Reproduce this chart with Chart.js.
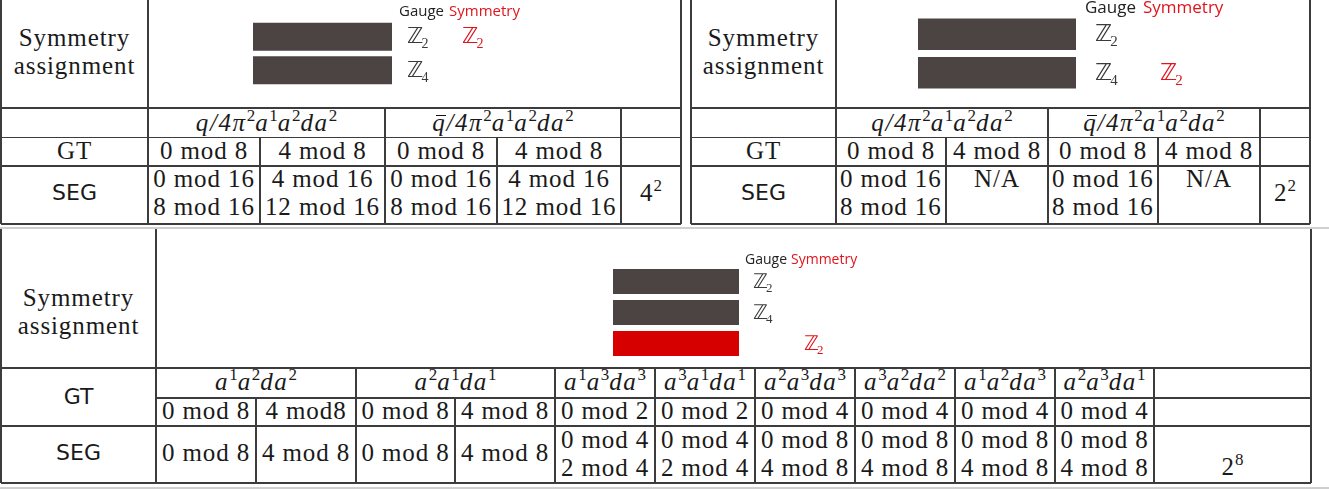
<!DOCTYPE html>
<html>
<head>
<meta charset="utf-8">
<script src="https://cdn.jsdelivr.net/npm/chart.js@4.4.1/dist/chart.umd.min.js"></script>
<style>
  html, body { margin: 0; padding: 0; background: #fff; }
  #page { position: relative; width: 1329px; height: 490px; overflow: hidden; background: #fff; }
  .ln { position: absolute; background: #3c3c3c; }
  .lt { position: absolute; background: #cfcfcf; }
  .t { position: absolute; text-align: center; white-space: nowrap; color: #1a1a1a; }
  .rm { font: 25px "Liberation Serif", serif; letter-spacing: .9px; }
  .mi { font: italic 25px "Liberation Serif", serif; letter-spacing: 1.6px; }
  .sf { font: 22px "DejaVu Sans", sans-serif; }
  .t sup { font: 17px "Liberation Serif", serif; position: relative; top: -10px; vertical-align: baseline; line-height: 0; letter-spacing: 0; }
  .qb { position: relative; }
  .qb::before { content: ''; position: absolute; left: 4px; right: 0; top: 6px; border-top: 1.4px solid #111; }
  canvas { position: absolute; }
</style>
</head>
<body>
<div id="page"></div>
<script>
// ---- data ----
// bars: one per gauge group, the red one carries only the symmetry
const tlGauge = ['2', '4'];
const tlSym   = ['2', ''];
const tlBars  = [1, 1];

const trGauge = ['2', '4'];
const trSym   = ['', '2'];
const trBars  = [1, 1];

const bGauge = ['2', '4', ''];
const bSym   = ['', '', '2'];
const bBars  = [1, 1, 1];

// tables
const topCharges = ['q', 'qbar'];
const tlGT  = ['0 mod 8', '4 mod 8', '0 mod 8', '4 mod 8'];
const tlSEG = [['0 mod 16', '8 mod 16'], ['4 mod 16', '12 mod 16'], ['0 mod 16', '8 mod 16'], ['4 mod 16', '12 mod 16']];
const tlCount = ['4', '2'];

const trGT  = ['0 mod 8', '4 mod 8', '0 mod 8', '4 mod 8'];
const trSEG = [['0 mod 16', '8 mod 16'], ['N/A'], ['0 mod 16', '8 mod 16'], ['N/A']];
const trCount = ['2', '2'];

const bTerms = [['1', '2', '2'], ['2', '1', '1'], ['1', '3', '3'], ['3', '1', '1'],
                ['2', '3', '3'], ['3', '2', '2'], ['1', '2', '3'], ['2', '3', '1']];
const bGT  = ['0 mod 8', '4 mod8', '0 mod 8', '4 mod 8', '0 mod 2', '0 mod 2', '0 mod 4', '0 mod 4', '0 mod 4', '0 mod 4'];
const bSEG = [['0 mod 8'], ['4 mod 8'], ['0 mod 8'], ['4 mod 8'], ['0 mod 4', '2 mod 4'], ['0 mod 4', '2 mod 4'],
              ['0 mod 8', '4 mod 8'], ['0 mod 8', '4 mod 8'], ['0 mod 8', '4 mod 8'], ['0 mod 8', '4 mod 8']];
const bCount = ['2', '8'];

const DARK = '#4b4442';
const RED  = '#d60000';

// ---- helpers ----
const page = document.getElementById('page');

function hline(x1, x2, y, w = 1.3) {
  const d = document.createElement('div');
  d.className = 'ln';
  Object.assign(d.style, { left: x1 + 'px', top: (y - w / 2) + 'px', width: (x2 - x1) + 'px', height: w + 'px' });
  page.appendChild(d);
}
function vline(x, y1, y2, w = 1.3) {
  const d = document.createElement('div');
  d.className = 'ln';
  Object.assign(d.style, { left: (x - w / 2) + 'px', top: y1 + 'px', width: w + 'px', height: (y2 - y1) + 'px' });
  page.appendChild(d);
}
function light(y) {
  const d = document.createElement('div');
  d.className = 'lt';
  Object.assign(d.style, { left: '0px', top: y + 'px', width: '1329px', height: '2px' });
  page.appendChild(d);
}
// cy = centre of the first line; extra lines go in the same element, gap px apart
function put(x1, x2, cy, lines, cls = 'rm', align, gap = 28) {
  const arr = Array.isArray(lines) ? lines : [lines];
  const d = document.createElement('div');
  d.className = 't ' + cls;
  d.style.left = x1 + 'px';
  d.style.width = (x2 - x1) + 'px';
  d.style.top = (cy - gap / 2) + 'px';
  d.style.lineHeight = gap + 'px';
  if (align) { d.style.textAlign = align; d.style.paddingLeft = '4px'; }
  d.innerHTML = arr.join('<br>');
  page.appendChild(d);
}
function box(x1, x2, y1, y2) {
  hline(x1, x2, y1, 1.8); hline(x1, x2, y2, 1.8);
  vline(x1, y1, y2, 1.8); vline(x2, y1, y2, 1.8);
}
const chargeHtml = c => (c === 'qbar' ? '<span class="qb">q</span>' : 'q') +
  '/4π<sup>2</sup>a<sup>1</sup>a<sup>2</sup>da<sup>2</sup>';
const termHtml = t => `a<sup>${t[0]}</sup>a<sup>${t[1]}</sup>da<sup>${t[2]}</sup>`;
const powHtml = p => `${p[0]}<sup>${p[1]}</sup>`;

// ---- Chart.js bars with gauge / symmetry labels ----
const symLabels = {
  id: 'symLabels',
  afterDatasetsDraw(chart, args, o) {
    const { ctx, chartArea } = chart;
    const ys = chart.scales.y;
    const r = chartArea.right;
    ctx.save();
    ctx.textBaseline = 'middle';
    ctx.textAlign = 'left';
    ctx.font = o.headFont;
    ctx.fillStyle = '#222';
    ctx.fillText('Gauge', r + o.headGauge, o.headY);
    ctx.fillStyle = '#e0141b';
    ctx.fillText('Symmetry', r + o.headSym, o.headY);
    const drawZ = (x, y, sub, color) => {
      ctx.fillStyle = color;
      ctx.font = o.zFont;
      ctx.fillText('ℤ', x, y + 1);
      const w = ctx.measureText('ℤ').width;
      ctx.font = o.subFont;
      ctx.fillText(sub, x + w - 2, y + o.subDy);
    };
    o.gauge.forEach((g, i) => {
      const y = ys.getPixelForValue(i);
      if (g) drawZ(r + o.gaugeX, y, g, '#3a3a3a');
      if (o.sym[i]) drawZ(r + o.symX, y, o.sym[i], '#e0141b');
    });
    ctx.restore();
  }
};

function barChart(left, top, w, h, padding, values, gauge, sym, pct, lab) {
  const c = document.createElement('canvas');
  c.width = w; c.height = h;
  c.style.left = left + 'px'; c.style.top = top + 'px';
  page.appendChild(c);
  new Chart(c.getContext('2d'), {
    type: 'bar',
    data: {
      labels: gauge.map((g, i) => 'Z' + (g || sym[i])),
      datasets: [{
        data: values,
        backgroundColor: gauge.map(g => g ? DARK : RED),
        borderWidth: 0,
        barPercentage: pct,
        categoryPercentage: 1
      }]
    },
    options: {
      indexAxis: 'y',
      responsive: false,
      animation: false,
      events: [],
      layout: { padding },
      scales: {
        x: { display: false, min: 0, max: 1 },
        y: { display: false }
      },
      plugins: {
        legend: { display: false },
        tooltip: { enabled: false },
        symLabels: Object.assign({ gauge, sym }, lab)
      }
    },
    plugins: [symLabels]
  });
}

// ---- top-left panel ----
box(1, 681, -2, 224);
vline(148, -2, 224);
hline(1, 681, 108); hline(1, 681, 137.5); hline(1, 681, 166);
[385, 621].forEach(x => vline(x, 108, 137.5));
[260, 385, 497, 621].forEach(x => vline(x, 137.5, 224));
put(1, 148, 38, ['Symmetry', 'assignment']);
put(148, 385, 123, chargeHtml(topCharges[0]), 'mi');
put(385, 621, 123, chargeHtml(topCharges[1]), 'mi');
put(1, 148, 151, 'GT');
put(1, 148, 193, 'SEG', 'sf');
const tlX = [148, 260, 385, 497, 621];
tlGT.forEach((s, i) => put(tlX[i], tlX[i + 1], 151, s));
tlSEG.forEach((l, i) => put(tlX[i], tlX[i + 1], 179, l));
put(621, 681, 193, powHtml(tlCount));
barChart(253, 0, 280, 107, { top: 20, bottom: 20, left: 0, right: 141 }, tlBars, tlGauge, tlSym, 0.83,
  { headY: 12, headGauge: 7, headSym: 57, headFont: '15px "Open Sans"', gaugeX: 15, symX: 70,
    zFont: '22px "DejaVu Sans"', subFont: '14px "Liberation Serif"', subDy: 8 });

// ---- top-right panel ----
box(691, 1310, -2, 224);
vline(836, -2, 224);
hline(691, 1310, 108); hline(691, 1310, 137.5); hline(691, 1310, 166);
[1048, 1260].forEach(x => vline(x, 108, 137.5));
[946, 1048, 1158, 1260].forEach(x => vline(x, 137.5, 224));
put(691, 836, 38, ['Symmetry', 'assignment']);
put(836, 1048, 123, chargeHtml(topCharges[0]), 'mi');
put(1048, 1260, 123, chargeHtml(topCharges[1]), 'mi');
put(691, 836, 151, 'GT');
put(691, 836, 193, 'SEG', 'sf');
const trX = [836, 946, 1048, 1158, 1260];
trGT.forEach((s, i) => put(trX[i], trX[i + 1], 151, s));
trSEG.forEach((l, i) => put(trX[i], trX[i + 1], 179, l, 'rm', l.length > 1 ? 'left' : undefined));
put(1260, 1310, 193, powHtml(trCount));
barChart(918, 0, 320, 107, { top: 15, bottom: 15, left: 0, right: 162 }, trBars, trGauge, trSym, 0.82,
  { headY: 8, headGauge: 9, headSym: 67, headFont: '17px "Open Sans"', gaugeX: 19, symX: 84,
    zFont: '23px "DejaVu Sans"', subFont: '15px "Liberation Serif"', subDy: 8 });

// ---- bottom panel ----
box(1, 1311, 228.5, 483);
vline(156, 228.5, 483);
hline(1, 1311, 368); hline(156, 1311, 398); hline(1, 1311, 426);
const bHeadX = [156, 356, 555, 655, 755, 855, 955, 1055, 1154];
const bX = [156, 256, 356, 455, 555, 655, 755, 855, 955, 1055, 1154];
bHeadX.slice(1).forEach(x => vline(x, 368, 398));
bX.slice(1).forEach(x => vline(x, 398, 483));
put(1, 156, 298, ['Symmetry', 'assignment']);
put(1, 156, 397, 'GT', 'sf');
put(1, 156, 453, 'SEG', 'sf');
bTerms.forEach((t, i) => put(bHeadX[i], bHeadX[i + 1], 382, termHtml(t), 'mi'));
bGT.forEach((s, i) => put(bX[i], bX[i + 1], 411, s));
bSEG.forEach((l, i) => put(bX[i], bX[i + 1], l.length === 1 ? 453 : 440, l));
put(1154, 1311, 467, powHtml(bCount));
barChart(613, 240, 260, 125, { top: 26, bottom: 6, left: 0, right: 134 }, bBars, bGauge, bSym, 0.81,
  { headY: 20, headGauge: 6, headSym: 52, headFont: '14px "Open Sans"', gaugeX: 14, symX: 65,
    zFont: '20px "DejaVu Sans"', subFont: '13px "Liberation Serif"', subDy: 7 });

light(226.5);
light(487);
</script>
</body>
</html>
